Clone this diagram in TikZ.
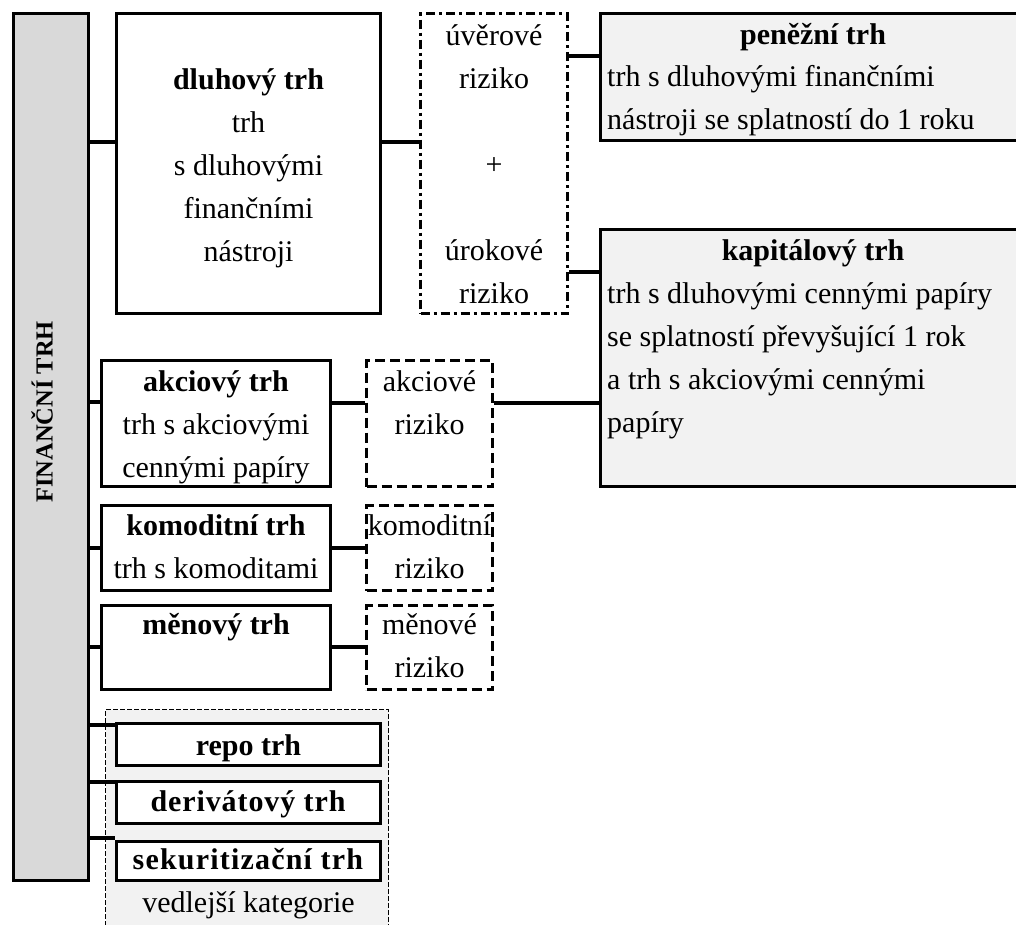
\documentclass[tikz,border=0pt]{standalone}
\usepackage{fontspec}
\setmainfont{Liberation Serif}
\usetikzlibrary{fit}
\definecolor{bargray}{HTML}{D9D9D9}
\definecolor{paleg}{HTML}{F2F2F2}
\begin{document}
\begin{tikzpicture}[x=1pt,y=-1pt,
  every node/.style={font=\fontsize{30}{43}\selectfont, inner sep=0pt},
  solidbox/.style={draw, line width=3.4pt, inner sep=0pt, fill=white},
  dashbox/.style={draw, line width=3.4pt, inner sep=0pt, fill=white, dash pattern=on 10pt off 5pt},
  ddbox/.style={draw, line width=3.4pt, inner sep=0pt, fill=white, dash pattern=on 9pt off 4pt on 3pt off 4pt},
  grpbox/.style={draw, line width=1.2pt, inner sep=0pt, dash pattern=on 5pt off 2pt, fill=paleg},
  conn/.style={line width=3.4pt},
  txt/.style={align=center},
  ltxt/.style={align=left, anchor=north west},
]
\useasboundingbox (0,0) rectangle (1016,924);

% background group
\node[grpbox, fit={(105.5,709.5) (388.5,940)}] (grp) {};

% boxes
\node[solidbox, fill=bargray, fit={(13.5,13.5) (88.5,880.5)}] (bar) {};
\node[solidbox, fit={(116.5,13.5) (380.5,313.5)}] (dl) {};
\node[ddbox, fit={(420.5,13.5) (567.5,313.5)}] (uv) {};
\node[solidbox, fill=paleg, fit={(600.5,13.5) (1030,140.5)}] (pen) {};
\node[solidbox, fill=paleg, fit={(600.5,229.5) (1030,486.5)}] (kap) {};
\node[solidbox, fit={(101.5,360.5) (330.5,486.5)}] (akc) {};
\node[dashbox, fit={(366.5,360.5) (492.5,486.5)}] (akr) {};
\node[solidbox, fit={(101.5,505.5) (330.5,590.5)}] (kom) {};
\node[dashbox, fit={(366.5,505.5) (492.5,590.5)}] (kor) {};
\node[solidbox, fit={(101.5,605.5) (330.5,689.5)}] (men) {};
\node[dashbox, fit={(366.5,605.5) (492.5,689.5)}] (mer) {};
\node[solidbox, fit={(116.5,723.5) (380.5,765.5)}] (repo) {};
\node[solidbox, fit={(116.5,781.5) (380.5,823.5)}] (der) {};
\node[solidbox, fit={(116.5,841.5) (380.5,880.5)}] (sek) {};

% connectors
\draw[conn] (bar.east |- 0,142) -- (dl.west |- 0,142);
\draw[conn] (dl.east |- 0,142) -- (uv.west |- 0,142);
\draw[conn] (uv.east |- 0,56) -- (pen.west |- 0,56);
\draw[conn] (uv.east |- 0,272) -- (kap.west |- 0,272);
\draw[conn] (akr.east |- 0,403) -- (kap.west |- 0,403);
\draw[conn] (bar.east |- 0,402) -- (akc.west |- 0,402);
\draw[conn] (akc.east |- 0,403) -- (akr.west |- 0,403);
\draw[conn] (bar.east |- 0,548) -- (kom.west |- 0,548);
\draw[conn] (kom.east |- 0,548) -- (kor.west |- 0,548);
\draw[conn] (bar.east |- 0,647) -- (men.west |- 0,647);
\draw[conn] (men.east |- 0,647) -- (mer.west |- 0,647);
\draw[conn] (bar.east |- 0,725) -- (repo.west |- 0,725);
\draw[conn] (bar.east |- 0,782) -- (der.west |- 0,782);
\draw[conn] (bar.east |- 0,838) -- (sek.west |- 0,838);

% texts
\node[rotate=90, font=\fontsize{24.5}{28}\selectfont\bfseries] (bart) at (42,412) {FINANČNÍ TRH};
\node[txt] (dlt) at ([yshift=-3pt]dl.center) {\strut\textbf{dluhový trh}\\\strut trh\\\strut s dluhovými\\\strut finančními\\\strut nástroji};
\node[txt] (uvt) at ([yshift=-2pt]uv.center) {\strut úvěrové\\\strut riziko\\\strut\\\strut +\\\strut\\\strut úrokové\\\strut riziko};
\node[anchor=base] (pent) at (813,44) {\textbf{peněžní trh}};
\node[ltxt] (penb) at (607,56.5) {\strut trh s dluhovými finančními\\\strut nástroji se splatností do 1 roku};
\node[anchor=base] (kapt) at (813,260) {\textbf{kapitálový trh}};
\node[ltxt] (kapb) at (607,273) {\strut trh s dluhovými cennými papíry\\\strut se splatností převyšující 1 rok\\\strut a trh s akciovými cennými\\\strut papíry};
\node[txt] (akct) at ([yshift=-2pt]akc.center) {\strut\textbf{akciový trh}\\\strut trh s akciovými\\\strut cennými papíry};
\node[txt] (akrt) at ([yshift=-2pt]akr.center) {\strut akciové\\\strut riziko\\\strut};
\node[txt] (komt) at (kom.center) {\strut\textbf{komoditní trh}\\\strut trh s komoditami};
\node[txt] (kort) at (kor.center) {\strut komoditní\\\strut riziko};
\node[txt] (ment) at (men.center) {\strut\textbf{měnový trh}\\\strut};
\node[txt] (mert) at (mer.center) {\strut měnové\\\strut riziko};
\node[txt] (repot) at ([yshift=-2pt]repo.center) {\strut\textbf{repo trh}};
\node[txt] (dert) at (der.center) {\strut\textbf{\addfontfeature{LetterSpace=3}derivátový trh}};
\node[txt] (sekt) at (sek.center) {\strut\textbf{\addfontfeature{LetterSpace=4}sekuritizační trh}};
\node[txt] (grpt) at (248.5,904) {\strut vedlejší kategorie};
\end{tikzpicture}
\end{document}
